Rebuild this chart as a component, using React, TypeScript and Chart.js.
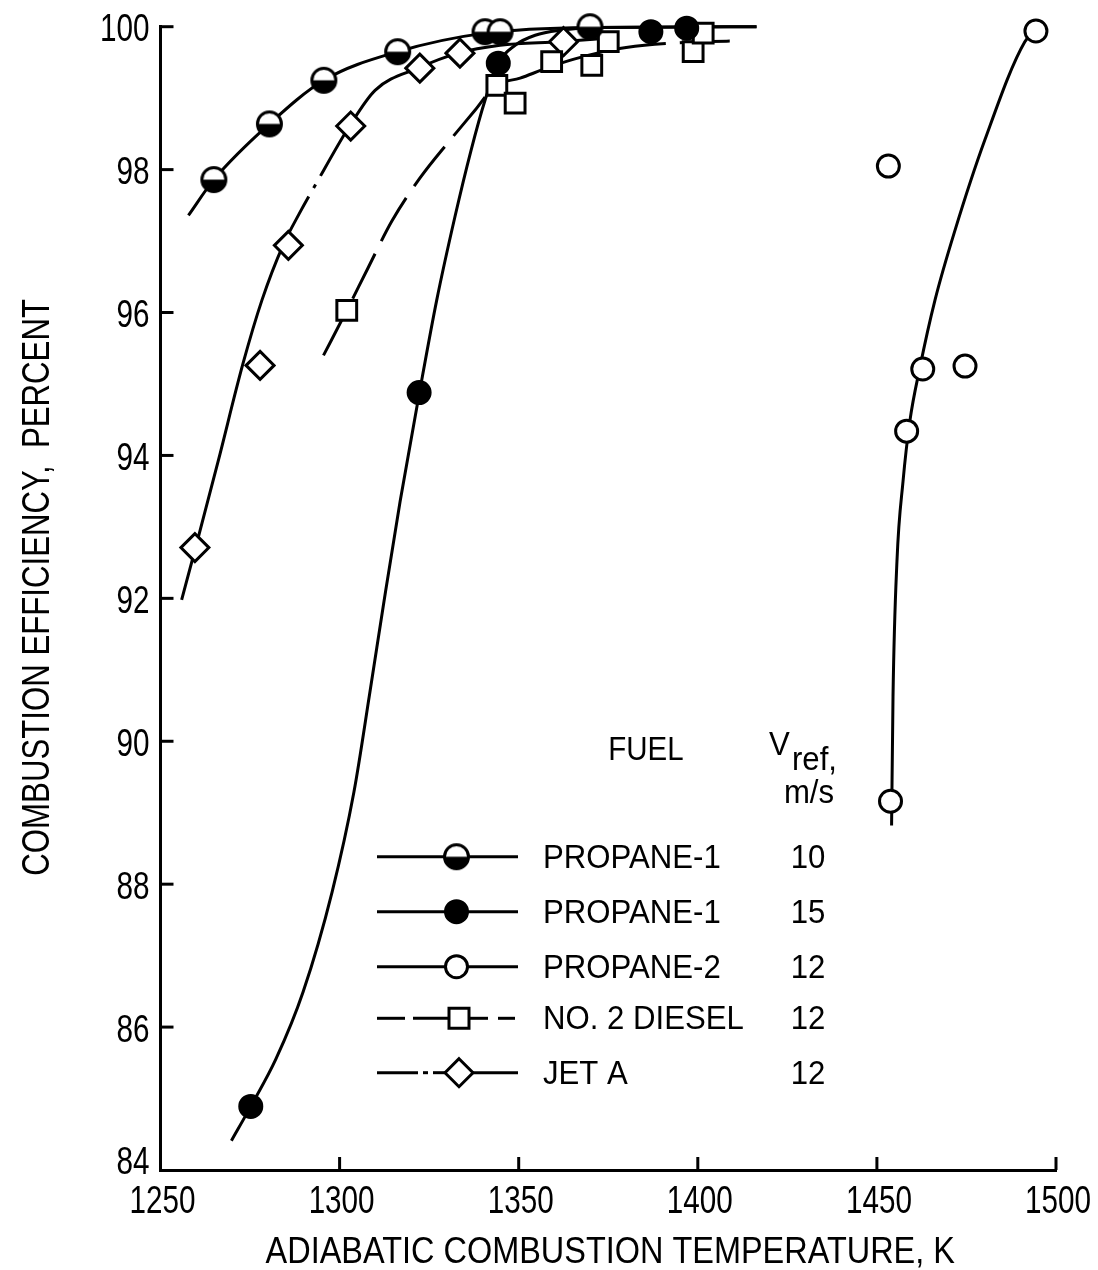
import React, { useEffect, useRef } from "react";
import { Chart, registerables } from "chart.js";

Chart.register(...registerables);

const FONT = "'Liberation Sans', Arial, sans-serif";

// ---- axes ----
const xTicks = [1250, 1300, 1350, 1400, 1450, 1500];
const yTicks = [84, 86, 88, 90, 92, 94, 96, 98, 100];
const xTitle = "ADIABATIC COMBUSTION TEMPERATURE, K";
const yTitle = "COMBUSTION EFFICIENCY,  PERCENT";

// ---- measured points (temperature K, efficiency %) ----
const propane1v10T = [1264.9, 1280.4, 1295.6, 1316.2, 1340.6, 1344.8, 1369.9];
const propane1v10E = [97.86, 98.64, 99.25, 99.65, 99.93, 99.93, 100.0];
const propane1v15T = [1275.2, 1322.2, 1344.3, 1386.9, 1396.9];
const propane1v15E = [84.89, 94.88, 99.49, 99.93, 99.98];
const propane2T = [1453.8, 1458.3, 1462.8, 1474.6, 1453.2, 1494.4];
const propane2E = [89.16, 94.34, 95.21, 95.25, 98.05, 99.94];
const dieselT = [1302.0, 1343.9, 1349.0, 1359.2, 1370.4, 1375.0, 1398.7, 1401.5];
const dieselE = [96.03, 99.18, 98.93, 99.51, 99.46, 99.79, 99.65, 99.91];
const jetAT = [1259.6, 1277.8, 1285.7, 1303.1, 1322.4, 1333.6, 1362.5];
const jetAE = [92.71, 95.26, 96.94, 98.61, 99.42, 99.63, 99.79];

// ---- faired curves ----
const curveP110T = [1257.8, 1264.9, 1280.4, 1295.6, 1316.2, 1340.6, 1369.9, 1416.4];
const curveP110E = [97.36, 97.86, 98.64, 99.25, 99.65, 99.91, 99.99, 100.0];
const curveP115T = [1269.8, 1275.2, 1282.2, 1289.8, 1297.9, 1304.0, 1308.5, 1312.4, 1316.9, 1322.3, 1327.1, 1332.2, 1336.7, 1340.6, 1344.3, 1349.0, 1354.6, 1361.5, 1372.7, 1416.4];
const curveP115E = [84.41, 84.89, 85.55, 86.49, 87.89, 89.29, 90.70, 91.96, 93.36, 94.88, 96.17, 97.34, 98.27, 98.97, 99.49, 99.74, 99.88, 99.95, 99.99, 100.0];
const curveP2T = [1454.1, 1454.5, 1455.6, 1457.3, 1459.2, 1462.0, 1466.2, 1471.8, 1480.1, 1491.3, 1494.4];
const curveP2E = [88.82, 90.63, 92.52, 93.64, 94.48, 95.23, 96.17, 97.15, 98.41, 99.79, 99.94];
const curveDieselT = [1295.5, 1302.0, 1307.9, 1314.6, 1322.4, 1330.8, 1337.8, 1343.4, 1350.4, 1357.3, 1365.7, 1380.0, 1400.6, 1411.8];
const curveDieselE = [95.40, 96.03, 96.62, 97.28, 97.88, 98.41, 98.83, 99.17, 99.28, 99.41, 99.55, 99.71, 99.79, 99.80];
const curveJetT = [1255.9, 1259.8, 1266.1, 1273.0, 1278.3, 1284.2, 1288.7, 1293.4, 1302.9, 1309.9, 1321.9, 1333.1, 1344.8, 1361.5, 1372.7];
const curveJetE = [91.98, 92.71, 93.92, 95.28, 96.17, 96.94, 97.38, 97.80, 98.62, 99.11, 99.42, 99.63, 99.74, 99.79, 99.83];

// ---- legend ----
const legendFuel = ["PROPANE-1", "PROPANE-1", "PROPANE-2", "NO. 2 DIESEL", "JET A"];
const legendVref = ["10", "15", "12", "12", "12"];

const pts = (t: number[], e: number[]) => t.map((x, i) => ({ x, y: e[i] }));

function makeHalfCircle(r: number, lw: number): HTMLCanvasElement {
  const size = Math.ceil(2 * r + lw + 2);
  const c = document.createElement("canvas");
  c.width = size;
  c.height = size;
  const g = c.getContext("2d")!;
  const cx = size / 2;
  const cy = size / 2;
  g.beginPath();
  g.arc(cx, cy, r, 0, Math.PI * 2);
  g.fillStyle = "#fff";
  g.fill();
  g.beginPath();
  g.arc(cx, cy, r, 0, Math.PI);
  g.closePath();
  g.fillStyle = "#000";
  g.fill();
  g.beginPath();
  g.arc(cx, cy, r, 0, Math.PI * 2);
  g.lineWidth = lw;
  g.strokeStyle = "#000";
  g.stroke();
  return c;
}

function drawMarker(ctx: CanvasRenderingContext2D, kind: string, x: number, y: number, half: HTMLCanvasElement) {
  ctx.save();
  ctx.lineWidth = 3;
  ctx.strokeStyle = "#000";
  if (kind === "half") {
    ctx.drawImage(half, x - half.width / 2, y - half.height / 2);
  } else if (kind === "filled" || kind === "open") {
    ctx.beginPath();
    ctx.arc(x, y, 11, 0, Math.PI * 2);
    ctx.fillStyle = kind === "filled" ? "#000" : "#fff";
    ctx.fill();
    ctx.stroke();
  } else if (kind === "square") {
    ctx.beginPath();
    ctx.rect(x - 10, y - 10, 20, 20);
    ctx.fillStyle = "#fff";
    ctx.fill();
    ctx.stroke();
  } else if (kind === "diamond") {
    ctx.beginPath();
    ctx.moveTo(x, y - 14);
    ctx.lineTo(x + 14, y);
    ctx.lineTo(x, y + 14);
    ctx.lineTo(x - 14, y);
    ctx.closePath();
    ctx.fillStyle = "#fff";
    ctx.fill();
    ctx.stroke();
  }
  ctx.restore();
}

function seg(ctx: CanvasRenderingContext2D, x1: number, y1: number, x2: number, y2: number) {
  ctx.beginPath();
  ctx.moveTo(x1, y1);
  ctx.lineTo(x2, y2);
  ctx.stroke();
}

// text drawn with horizontal compression to mimic the condensed lettering
function txt(ctx: CanvasRenderingContext2D, s: string, x: number, y: number, size: number, sx: number, align: string) {
  ctx.save();
  ctx.font = `${size}px ${FONT}`;
  ctx.textBaseline = "alphabetic";
  ctx.textAlign = "left";
  const w = ctx.measureText(s).width * sx;
  const x0 = align === "center" ? x - w / 2 : align === "right" ? x - w : x;
  ctx.translate(x0, y);
  ctx.scale(sx, 1);
  ctx.fillStyle = "#000";
  ctx.fillText(s, 0, 0);
  ctx.restore();
}

export default function App() {
  const ref = useRef<HTMLCanvasElement | null>(null);

  useEffect(() => {
    if (!ref.current) return;
    const half = makeHalfCircle(12, 3);

    const overlay = {
      id: "overlay",
      afterDraw(chart: any) {
        const { ctx, chartArea, scales } = chart;
        ctx.save();
        ctx.strokeStyle = "#000";
        ctx.lineWidth = 3;
        ctx.setLineDash([]);
        // inward tick marks
        xTicks.slice(1).forEach((v) => {
          const px = scales.x.getPixelForValue(v);
          seg(ctx, px, chartArea.bottom, px, chartArea.bottom - 13);
        });
        yTicks.slice(1).forEach((v) => {
          const py = scales.y.getPixelForValue(v);
          seg(ctx, chartArea.left, py, chartArea.left + 13, py);
        });

        // tick labels
        xTicks.forEach((v) => {
          const px = scales.x.getPixelForValue(v);
          txt(ctx, String(v), px + 2, chartArea.bottom + 43, 38, 0.78, "center");
        });
        yTicks.forEach((v) => {
          const py = scales.y.getPixelForValue(v);
          const dy = v === yTicks[0] ? 4 : 14.5;
          txt(ctx, String(v), chartArea.left - 11, py + dy, 38, 0.78, "right");
        });

        // axis titles
        txt(ctx, xTitle, (chartArea.left + chartArea.right) / 2 + 2, 1263, 37.3, 0.87, "center");
        ctx.save();
        ctx.translate(49, (chartArea.top + chartArea.bottom) / 2 - 11);
        ctx.rotate(-Math.PI / 2);
        txt(ctx, yTitle, 0, 0, 39, 0.8, "center");
        ctx.restore();

        // legend
        txt(ctx, "FUEL", 646, 760, 33.5, 0.88, "center");
        txt(ctx, "V", 769, 755, 33.5, 0.93, "left");
        txt(ctx, "ref,", 792, 770, 33.5, 0.93, "left");
        txt(ctx, "m/s", 809, 803, 33.5, 0.93, "center");

        const rows = [856.7, 911.7, 966.7, 1018.3, 1072.7];
        const kinds = ["half", "filled", "open", "square", "diamond"];
        rows.forEach((ry, i) => {
          ctx.lineWidth = 3;
          ctx.strokeStyle = "#000";
          if (i < 3) {
            seg(ctx, 377, ry, 518, ry);
          } else if (i === 3) {
            seg(ctx, 377, ry, 405, ry);
            seg(ctx, 413, ry, 450, ry);
            seg(ctx, 470, ry, 488, ry);
            seg(ctx, 498, ry, 515, ry);
          } else {
            seg(ctx, 377, ry, 418, ry);
            seg(ctx, 423, ry, 428, ry);
            seg(ctx, 433, ry, 447, ry);
            seg(ctx, 470, ry, 518, ry);
          }
          const mx = i < 3 ? 456.5 : 459;
          drawMarker(ctx, kinds[i], mx, ry, half);
          txt(ctx, legendFuel[i], 543, ry + 11, 33.5, 0.93, "left");
          txt(ctx, legendVref[i], 808, ry + 11, 33.5, 0.93, "center");
        });
        ctx.restore();
      },
    };

    const markerBase = { showLine: false, clip: false as any, pointBorderColor: "#000", pointBorderWidth: 3, pointHoverRadius: 0 };
    const curveBase = {
      showLine: true,
      clip: false as any,
      pointRadius: 0,
      pointHoverRadius: 0,
      borderColor: "#000",
      borderWidth: 3,
      cubicInterpolationMode: "monotone" as const,
      fill: false,
    };

    const chart = new Chart(ref.current, {
      type: "scatter",
      data: {
        datasets: [
          { ...markerBase, label: "Propane-1 10", data: pts(propane1v10T, propane1v10E), pointStyle: half as any, pointRadius: 12 },
          { ...markerBase, label: "Propane-1 15", data: pts(propane1v15T, propane1v15E), pointStyle: "circle", pointRadius: 11, pointBackgroundColor: "#000" },
          { ...markerBase, label: "Propane-2 12", data: pts(propane2T, propane2E), pointStyle: "circle", pointRadius: 11, pointBackgroundColor: "#fff" },
          { ...markerBase, label: "No. 2 Diesel 12", data: pts(dieselT, dieselE), pointStyle: "rect", pointRadius: 14, pointBackgroundColor: "#fff" },
          { ...markerBase, label: "Jet A 12", data: pts(jetAT, jetAE), pointStyle: "rectRot", pointRadius: 14, pointBackgroundColor: "#fff" },
          { ...curveBase, label: "c1", data: pts(curveP110T, curveP110E) },
          { ...curveBase, label: "c2", data: pts(curveP115T, curveP115E) },
          { ...curveBase, label: "c3", data: pts(curveP2T, curveP2E) },
          { ...curveBase, label: "c4", data: pts(curveDieselT, curveDieselE), borderDash: [50, 14] },
          {
            ...curveBase,
            label: "c5",
            data: pts(curveJetT, curveJetE),
            segment: {
              borderDash: (c: any) => (c.p0.parsed.y >= 96.9 && c.p0.parsed.y < 98.6 ? [55, 10, 4, 10] : []),
            },
          },
        ] as any,
      },
      options: {
        responsive: false,
        devicePixelRatio: 1,
        animation: false,
        layout: { padding: { top: 26.7, right: 42, left: 0, bottom: 0 } },
        plugins: { legend: { display: false }, tooltip: { enabled: false } },
        events: [],
        scales: {
          x: {
            type: "linear",
            min: 1250,
            max: 1500,
            afterFit: (s: any) => {
              s.height = 100;
            },
            ticks: { display: false, stepSize: 50 },
            grid: { display: false },
            border: { display: true, color: "#000", width: 3 },
            title: { display: false },
          },
          y: {
            type: "linear",
            min: 84,
            max: 100,
            afterFit: (s: any) => {
              s.width = 160.5;
            },
            ticks: { display: false, stepSize: 2 },
            grid: { display: false },
            border: { display: true, color: "#000", width: 3 },
            title: { display: false },
          },
        },
      },
      plugins: [overlay],
    });

    return () => chart.destroy();
  }, []);

  return (
    <div style={{ position: "fixed", left: 0, top: 0, width: 1098, height: 1270, background: "#fff" }}>
      <canvas ref={ref} width={1098} height={1270} style={{ display: "block", width: 1098, height: 1270 }} />
    </div>
  );
}
